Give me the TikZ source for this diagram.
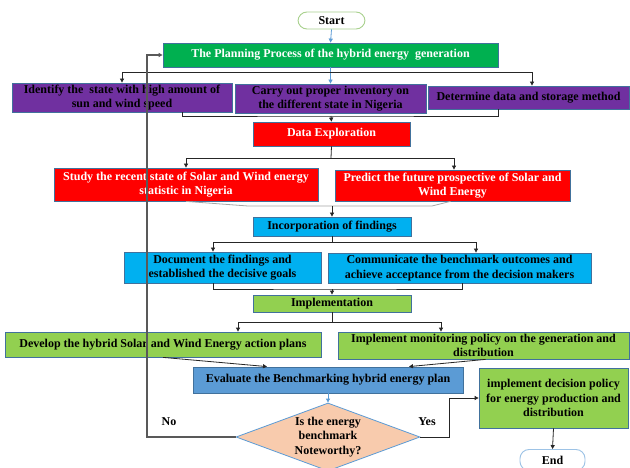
\documentclass[tikz,border=0pt]{standalone}
\usepackage{fontspec}
\setmainfont{Liberation Serif}
\usetikzlibrary{arrows.meta,shapes.geometric,calc}
\definecolor{cgreen}{HTML}{00B050}
\definecolor{cpurple}{HTML}{7030A0}
\definecolor{cred}{HTML}{FF0000}
\definecolor{ccyan}{HTML}{00B0F0}
\definecolor{clime}{HTML}{92D050}
\definecolor{csteel}{HTML}{5B9BD5}
\definecolor{cpeach}{HTML}{F8CBAD}
\definecolor{cborder}{HTML}{41719C}
\definecolor{clblue}{HTML}{5B9BD5}
\definecolor{cline}{HTML}{262626}
\definecolor{cgrayline}{HTML}{A6A6A6}
\definecolor{cfb}{HTML}{595959}
\definecolor{cstartb}{HTML}{A9D18E}
\definecolor{cendb}{HTML}{9DC3E6}
\begin{document}
\begin{tikzpicture}[x=1pt,y=-1pt,
  txt/.style={align=center, font=\fontsize{12}{14.5}\selectfont\bfseries},
  box/.style={txt, draw=cborder, line width=0.8pt, inner sep=1pt},
  sz/.style 2 args={minimum width=#1, minimum height=#2},
  term/.style={txt, fill=white, line width=0.9pt, rounded corners=9pt, inner sep=1pt},
  conn/.style={draw=cline, line width=0.8pt},
  arr/.style={conn, -{Triangle[length=4pt,width=4pt]}},
  barr/.style={draw=clblue, line width=0.8pt, -{Triangle[length=4pt,width=4pt]}},
  garr/.style={draw=cgrayline, line width=0.8pt},
  fb/.style={draw=cfb, line width=1.1pt, -{Triangle[length=4pt,width=4pt]}}]
\useasboundingbox (0,0) rectangle (630,468);
\fill[white] (0,0) rectangle (630,468);

% nodes
\node[term, draw=cstartb, sz={67}{17}] (start) at (331.5,20.5) {Start};
\node[box, fill=cgreen, text=white, sz={335}{24}] (plan) at (330.5,55) {The Planning Process of the hybrid energy\ \ generation};
\node[box, fill=cpurple, sz={220}{29}] (p1) at (122,97.5) {Identify the\ \ state with high amount of\\sun and wind speed};
\node[box, fill=cpurple, sz={191}{29}] (p2) at (330.5,98.5) {Carry out proper inventory on\\the different state in Nigeria};
\node[box, fill=cpurple, sz={201}{23}] (p3) at (528.5,97.5) {Determine data and storage method};
\node[box, fill=cred, text=white, sz={157}{24}] (de) at (331.5,134) {Data Exploration};
\node[box, fill=cred, text=white, sz={264}{33}] (r1) at (186,184.5) {Study the recent state of Solar and Wind energy\\statistic in Nigeria};
\node[box, fill=cred, text=white, sz={235}{31}] (r2) at (452.5,185.5) {Predict the future prospective of Solar and\\Wind Energy};
\node[box, fill=ccyan, sz={158}{19}] (inc) at (332,226.5) {Incorporation of findings};
\node[box, fill=ccyan, sz={197}{31}] (b1) at (222.5,267.5) {Document the findings and\\established the decisive goals};
\node[box, fill=ccyan, sz={263}{30}] (b2) at (459.5,268) {Communicate the benchmark outcomes and\\achieve acceptance from the decision makers};
\node[box, fill=clime, sz={158}{17}] (impl) at (332,303.5) {Implementation};
\node[box, fill=clime, sz={316}{25}] (g1) at (163,344.5) {Develop the hybrid Solar and Wind Energy action plans};
\node[box, fill=clime, sz={291}{27}] (g2) at (483.5,345.5) {Implement monitoring policy on the generation and\\distribution};
\node[box, fill=csteel, sz={270}{26}] (eval) at (328,380) {Evaluate the Benchmarking hybrid energy plan};
\node[diamond, draw=clblue, fill=cpeach, line width=0.8pt, inner sep=0pt, sz={184}{68}] (dia) at (328,437) {};
\node[txt] (diat) at (dia.center) {Is the energy\\benchmark\\Noteworthy?};
\node[box, fill=clime, sz={149}{60}] (dec) at (553.5,398) {implement decision policy\\for energy production and\\distribution};
\node[term, draw=cendb, sz={65}{21}] (end) at (552.5,460) {End};
\node[txt] (no) at (169,422) {No};
\node[txt] (yes) at (427,422) {Yes};

% connectors
\draw[barr] (start.south) -- (plan.north);
\draw[barr] (plan.south) -- (p2.north);
\coordinate (s1) at (331,72);
\draw[arr] (s1) -| (p1.north);
\draw[arr] (s1) -| ($(p3.north)+(3.5,0)$);

\coordinate (m1) at (331,116);
\draw[conn] (p1.south -| 182,0) |- (m1) -| (p3.south -| 498,0);
\draw[arr] (m1) -- (de.north);

\coordinate (m2) at (331,158);
\draw[conn] (de.south) -- (m2);
\draw[arr] (m2) -| (r1.north);
\draw[arr] (m2) -| ($(r2.north)+(1.5,0)$);

\coordinate (m3) at (332,206);
\draw[garr] (r1.south) -- (248,206) -- (432,206) -- ($(r2.south)+(-2,0)$);
\draw[arr] (m3) -- (inc.north);

\coordinate (m4) at (332,242);
\draw[conn] (inc.south) -- (m4);
\draw[arr] (m4) -| (b1.north -| 213,0);
\draw[arr] (m4) -| (b2.north -| 476,0);

\coordinate (m5) at (332,289);
\draw[conn] (b1.south -| 213,0) |- (m5) -| (b2.south -| 462,0);
\draw[arr] (m5) -- (impl.north);

\coordinate (m6) at (332,322);
\draw[conn] (impl.south) -- (m6);
\draw[arr] (m6) -| (g1.north -| 238,0);
\draw[arr] (m6) -| (g2.north -| 441,0);

\draw[arr] (g1.south) -- (eval.north -| 267,0);
\draw[arr] ($(g2.south)+(2,0)$) -- (eval.north -| 409,0);

\draw[barr] (eval.south) -- (dia.north);
\draw[fb] (dia.west) -- (dia.west -| 147,0) |- (plan.west);
\draw[arr] (dia.east) -- (dia.east -| 449,0) |- (dec.west);
\draw[arr] (dec.south) -- (end.north);
\end{tikzpicture}
\end{document}
